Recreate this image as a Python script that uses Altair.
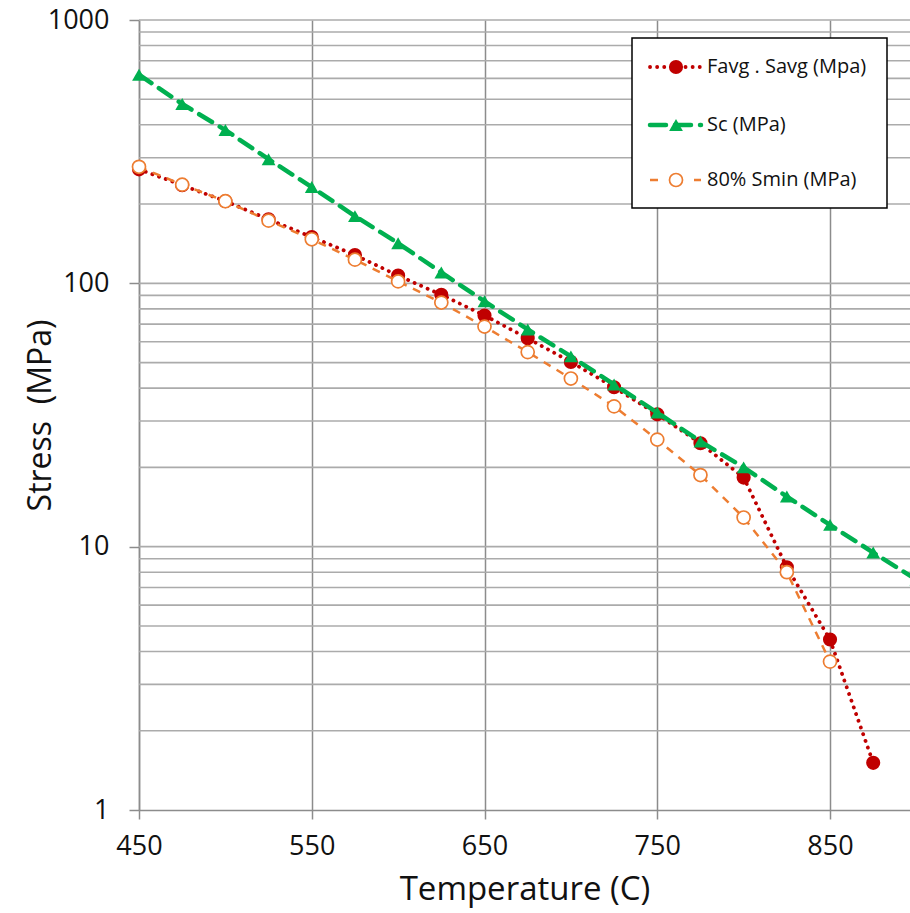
import altair as alt
import pandas as pd

# ---- data ----
temps_favg = [450, 475, 500, 525, 550, 575, 600, 625, 650, 675, 700, 725, 750, 775, 800, 825, 850, 875]
favg = [271, 236, 205, 175, 150, 128, 107, 90.5, 75.5, 61.8, 50.3, 40.3, 31.8, 24.7, 18.3, 8.35, 4.44, 1.51]

temps_sc = [450, 475, 500, 525, 550, 575, 600, 625, 650, 675, 700, 725, 750, 775, 800, 825, 850, 875, 900]
sc = [620, 480, 382, 296, 232, 180, 142, 110, 85.5, 66.8, 52.8, 41.3, 32.3, 25.1, 20.0, 15.5, 12.1, 9.5, 7.5]

temps_smin = [450, 475, 500, 525, 550, 575, 600, 625, 650, 675, 700, 725, 750, 775, 800, 825, 850]
smin = [277, 237, 205, 173, 147, 123, 101.7, 84.5, 68.5, 54.8, 43.5, 34.1, 25.5, 18.7, 12.9, 8.0, 3.66]

series_names = ["Favg . Savg (Mpa)", "Sc (MPa)", "80% Smin (MPa)"]
x_ticks = [450, 550, 650, 750, 850]
y_ticks = [1, 10, 100, 1000]
y_grid = [m * d for d in [1, 10, 100] for m in range(2, 10)] + [10, 100, 1000]

FONT = "Open Sans"
W, H = 771, 790

xscale = alt.Scale(domain=[450, 896.3], nice=False, zero=False)
yscale = alt.Scale(type="log", domain=[1, 1000], nice=False)

xaxis = alt.Axis(values=x_ticks, grid=True, gridColor="#8c8c8c", gridWidth=1.5,
                 tickSize=9, tickColor="#8c8c8c", tickWidth=1.5,
                 domainColor="#8c8c8c", domainWidth=1.5, labelFlush=False,
                 labelFont=FONT, labelFontSize=27, labelColor="#111", labelPadding=14,
                 title="Temperature (C)", titleFont=FONT, titleFontSize=33,
                 titleFontWeight="normal", titleColor="#111",
                 titleY=89, titleBaseline="alphabetic")
yaxis = alt.Axis(values=y_ticks, grid=False, format="d", labelFlush=False,
                 tickSize=10, tickColor="#8c8c8c", tickWidth=1.5,
                 domainColor="#8c8c8c", domainWidth=1.5,
                 labelFont=FONT, labelFontSize=27, labelColor="#111", labelPadding=20,
                 title="Stress\u00a0 (MPa)", titleFont=FONT, titleFontSize=32,
                 titleFontWeight="normal", titleColor="#111",
                 titleX=-99, titleBaseline="middle", titleAngle=-90)

grid = alt.Chart(pd.DataFrame({"v": y_grid})).mark_rule(
    color="#ababab", strokeWidth=1.6
).encode(y=alt.Y("v:Q", scale=yscale, axis=yaxis))

specs = [
    dict(name=series_names[0], t=temps_favg, v=favg, color="#C00000",
         dash=[0.1, 7], width=3.8, cap="round", shape="circle", filled=True, size=200,
         lg_dash=[0.1, 7]),
    dict(name=series_names[1], t=temps_sc, v=sc, color="#00B050",
         dash=[15, 9], width=4.5, cap="round", shape="triangle-up", filled=True, size=190,
         lg_dash=[16, 9]),
    dict(name=series_names[2], t=temps_smin, v=smin, color="#ED7D31",
         dash=[8, 7], width=2.5, cap="butt", shape="circle", filled=False, size=170,
         lg_dash=[8, 14]),
]

layers = [grid]
for i, s in enumerate(specs):
    df = pd.DataFrame({"T": s["t"], "S": s["v"], "series": s["name"]})
    base = alt.Chart(df).encode(
        x=alt.X("T:Q", scale=xscale, axis=xaxis),
        y=alt.Y("S:Q", scale=yscale, axis=yaxis),
    )
    line = base.mark_line(color=s["color"], strokeWidth=s["width"],
                          strokeDash=s["dash"], strokeCap=s["cap"])
    if s["filled"]:
        pts = base.mark_point(shape=s["shape"], size=s["size"], filled=True,
                              color=s["color"], opacity=1)
    else:
        pts = base.mark_point(shape=s["shape"], size=s["size"], filled=False,
                              fill="white", fillOpacity=1, stroke=s["color"],
                              strokeWidth=1.7, opacity=1)
    layers += [line, pts]

# ---- legend (drawn) ----
legend_rows_y = [47, 105, 160]
box = alt.Chart(pd.DataFrame({"k": [0]})).mark_rect(
    fill="white", stroke="black", strokeWidth=1.5
).encode(x=alt.value(493), x2=alt.value(748), y=alt.value(18), y2=alt.value(188))
layers.append(box)
for s, yy in zip(specs, legend_rows_y):
    ldf = pd.DataFrame({"label": [s["name"]]})
    lb = alt.Chart(ldf)
    seg = lb.mark_rule(color=s["color"], strokeWidth=s["width"],
                       strokeDash=s["lg_dash"], strokeCap=s["cap"]).encode(
        x=alt.value(511), x2=alt.value(562), y=alt.value(yy))
    if s["filled"]:
        sym = lb.mark_point(shape=s["shape"], size=s["size"], filled=True,
                            color=s["color"], opacity=1)
    else:
        sym = lb.mark_point(shape=s["shape"], size=s["size"], filled=False,
                            fill="white", fillOpacity=1, stroke=s["color"],
                            strokeWidth=1.7, opacity=1)
    sym = sym.encode(x=alt.value(537), y=alt.value(yy))
    txt = lb.mark_text(align="left", baseline="middle", font=FONT, fontSize=20,
                       color="#111").encode(
        x=alt.value(568), y=alt.value(yy), text="label:N")
    layers += [seg, sym, txt]

chart = alt.layer(*layers).properties(
    width=W, height=H,
    autosize=alt.AutoSizeParams(type="none"),
    padding={"left": 139, "top": 20, "right": 0, "bottom": 103},
    background="white",
).configure_view(stroke=None)

chart.save("out.html", embed_options={"renderer": "svg", "actions": False})
